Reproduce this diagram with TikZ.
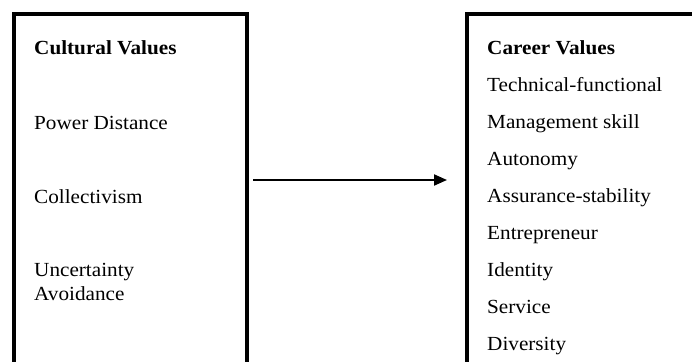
\documentclass[tikz,border=0pt]{standalone}
\usepackage{fontspec}
\setmainfont{Liberation Serif}[FakeStretch=1.06]
\usetikzlibrary{arrows.meta}

\tikzset{
	valuebox/.style={draw, line width=4pt, inner sep=0pt, outer sep=0pt, anchor=north west},
	valuetext/.style={anchor=base west, inner sep=0pt, font=\fontsize{20}{24}\selectfont},
	valuehead/.style={valuetext, font=\fontsize{20}{24}\selectfont\bfseries},
	linkarrow/.style={line width=2pt, -{Triangle[length=13pt,width=11pt]}}
}

\begin{document}
\begin{tikzpicture}[x=1pt, y=-1pt]
	\useasboundingbox (0,0) rectangle (692,361);
	% the two boxes run past the bottom of the page
	\node (cultural) at (14,14) [valuebox, minimum width=233pt, minimum height=380pt] {};
	\node (career) at (467,14) [valuebox, minimum width=260pt, minimum height=380pt] {};
	\node (culthead) at (34,55) [valuehead] {Cultural Values};
	\node (power) at (34,129) [valuetext] {Power Distance};
	\node (collect) at (34,203) [valuetext] {Collectivism};
	\node (uncert) at (34,300) [valuetext, align=left] {Uncertainty\\Avoidance};
	\node (carhead) at (487,55) [valuehead] {Career Values};
	\foreach \name/\txt [count=\i] in {tech/Technical-functional, manage/Management skill,
		auto/Autonomy, assure/Assurance-stability, entre/Entrepreneur,
		ident/Identity, serv/Service, divers/Diversity}
		\node (\name) at (487,55+36.9*\i) [valuetext] {\txt};
	\coordinate (mid) at (0,180);
	\draw[linkarrow, shorten <=6pt, shorten >=20pt] (cultural.east |- mid) -- (career.west |- mid);
\end{tikzpicture}
\end{document}
